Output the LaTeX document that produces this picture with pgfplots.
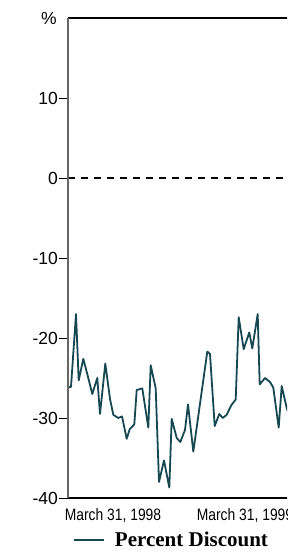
\documentclass[border=0pt]{standalone}
\usepackage{pgfplots}
\pgfplotsset{compat=1.18}
\usepackage{fontspec}
\setmainfont{Liberation Sans}
\newfontfamily\narrowfont[FakeStretch=0.84]{Liberation Sans}
\newfontfamily\legfont{Liberation Serif}
\definecolor{teal1}{HTML}{164852}
\begin{document}
\begin{tikzpicture}
\useasboundingbox (0,0) rectangle (287pt,555pt);
\clip (0,0) rectangle (287pt,555pt);
\begin{axis}[
  at={(68pt,57pt)}, anchor=south west,
  scale only axis, width=400pt, height=480pt,
  xmin=68, xmax=468, ymin=-40, ymax=20,
  axis line style={draw=none},
  ytick={-40,-30,-20,-10,0,10},
  yticklabels={-40,-30,-20,-10,0,10},
  ytick pos=left, tick align=outside,
  major tick length=9pt,
  tick style={black, line width=0.8pt},
  yticklabel style={font=\fontsize{17.5}{20}\selectfont, inner sep=1pt},
  xtick={113,245},
  xticklabels={{March 31, 1998},{March 31, 1999}},
  xtick style={draw=none},
  xticklabel style={font=\narrowfont\fontsize{16.5}{19}\selectfont, inner sep=0pt, anchor=north, yshift=-1pt},
  legend style={at={(axis description cs:0.0125,-0.0875)}, anchor=west,
    draw=none, fill=none, inner sep=0pt, column sep=10pt,
    font=\legfont\bfseries\fontsize{21}{24}\selectfont,
    nodes={inner sep=0pt}},
  legend image code/.code={\draw[#1] (0pt,0pt) -- (30pt,0pt);},
  clip=false,
]
\addplot[teal1, line width=1.8pt, line join=round] coordinates {
(67.7,-26.2) (71.0,-26.1) (76.0,-17.0) (78.7,-25.3) (83.3,-22.6)
(87.7,-24.7) (92.3,-27.0) (97.3,-25.0) (100.0,-29.5) (105.3,-23.2)
(110.0,-27.6) (113.3,-29.6) (118.3,-30.0) (122.0,-29.8) (126.7,-32.6)
(129.7,-31.4) (134.3,-30.8) (136.7,-26.5) (142.3,-26.3) (148.3,-31.2)
(150.7,-23.4) (155.7,-26.3) (159.0,-38.0) (164.0,-35.3) (169.3,-38.7)
(171.7,-30.1) (176.7,-32.5) (180.3,-33.0) (185.0,-31.5) (188.0,-28.3)
(193.3,-34.2) (207.3,-21.7) (210.0,-22.0) (214.7,-31.0) (219.3,-29.5)
(222.7,-30.0) (226.7,-29.6) (231.3,-28.4) (235.7,-27.7) (238.7,-17.4)
(243.7,-21.4) (249.3,-19.3) (252.3,-21.3) (257.7,-17.0) (259.7,-25.8)
(265.0,-25.0) (270.0,-25.5) (273.3,-26.2) (278.7,-31.2) (281.7,-26.0)
(287.0,-28.9) (291.0,-30.0) (295.0,-28.0)
};
\addlegendentry{Percent Discount}
\draw[black, line width=1.2pt, dash pattern=on 7pt off 6pt] (axis cs:68,0) -- (axis cs:468,0);
\draw[black, line width=1.5pt] (rel axis cs:0,1) -- (rel axis cs:1,1);
\draw[black, line width=1.5pt] (rel axis cs:0,0) -- (rel axis cs:1,0);
\draw[gray!80!black, line width=2pt] (rel axis cs:0,0) -- (rel axis cs:0,1);
\node[anchor=east, inner sep=1pt, font=\fontsize{17.5}{20}\selectfont] at ([xshift=-10pt]rel axis cs:0,1) {\%};
\end{axis}
\end{tikzpicture}
\end{document}
